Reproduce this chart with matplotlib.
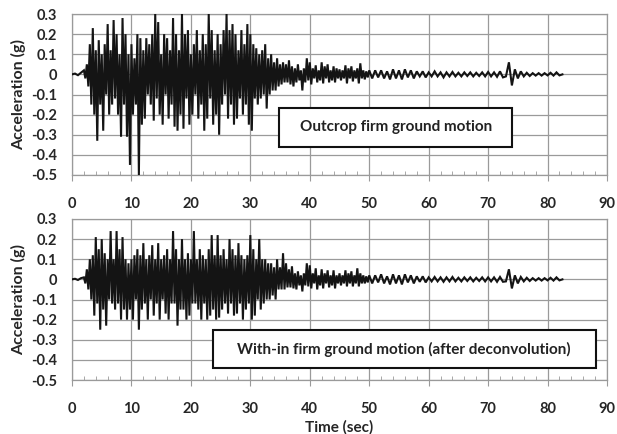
import numpy as np
import matplotlib
matplotlib.use("Agg")
import matplotlib.pyplot as plt
from matplotlib.patches import Rectangle
from matplotlib.ticker import MultipleLocator

plt.rcParams['font.family'] = ['Lato', 'DejaVu Sans']

# ---- data (acceleration in g) ----
# quiet start, dt = 0.5 s from 0 s
top_pre = [0.0, 0.004, -0.004, 0.008]
bot_pre = [0.0, 0.003, -0.003, 0.006]

# strong motion, dt = 0.25 s from 2.0 s
top_strong = [
    0.02, -0.02, 0.05, -0.06, 0.15, -0.15, 0.23, -0.2, 0.12, -0.33,
    0.17, -0.15, 0.1, -0.28, 0.15, -0.1, 0.25, -0.2, 0.12, -0.15,
    0.27, -0.12, 0.2, -0.2, 0.1, -0.31, 0.28, -0.15, 0.2, -0.31,
    0.1, -0.45, 0.15, -0.2, 0.08, -0.15, 0.2, -0.5, 0.18, -0.25,
    0.12, -0.22, 0.18, -0.1, 0.15, -0.15, 0.2, -0.23, 0.3, -0.12,
    0.26, -0.2, 0.1, -0.25, 0.2, -0.1, 0.18, -0.22, 0.12, -0.15,
    0.28, -0.26, 0.2, -0.28, 0.12, -0.2, 0.3, -0.27, 0.2, -0.12,
    0.22, -0.25, 0.1, -0.2, 0.15, -0.1, 0.22, -0.22, 0.12, -0.15,
    0.2, -0.28, 0.15, -0.22, 0.3, -0.12, 0.22, -0.25, 0.12, -0.2,
    0.2, -0.3, 0.15, -0.15, 0.22, -0.1, 0.3, -0.22, 0.22, -0.15,
    0.25, -0.25, 0.2, -0.22, 0.12, -0.12, 0.22, -0.2, 0.15, -0.15,
    0.25, -0.25, 0.2, -0.28, 0.15, -0.12, 0.13, -0.15, 0.1, -0.12,
    0.12, -0.1, 0.15, -0.17, 0.08, -0.1, 0.1, -0.08, 0.06, -0.08,
    0.08, -0.06, 0.05, -0.05, 0.06, -0.04, 0.05, -0.04, 0.07, -0.05,
]
bot_strong = [
    0.01, -0.02, 0.05, -0.05, 0.1, -0.1, 0.12, -0.18, 0.21, -0.12,
    0.15, -0.25, 0.2, -0.15, 0.13, -0.23, 0.1, -0.1, 0.24, -0.12,
    0.1, -0.15, 0.24, -0.12, 0.15, -0.2, 0.21, -0.15, 0.1, -0.2,
    0.08, -0.15, 0.1, -0.2, 0.12, -0.1, 0.15, -0.25, 0.12, -0.15,
    0.18, -0.12, 0.1, -0.2, 0.12, -0.1, 0.17, -0.18, 0.1, -0.12,
    0.18, -0.2, 0.1, -0.1, 0.12, -0.17, 0.15, -0.2, 0.1, -0.12,
    0.24, -0.12, 0.15, -0.23, 0.1, -0.15, 0.2, -0.15, 0.1, -0.2,
    0.13, -0.18, 0.1, -0.12, 0.24, -0.12, 0.1, -0.15, 0.15, -0.2,
    0.12, -0.12, 0.1, -0.2, 0.15, -0.18, 0.22, -0.15, 0.12, -0.2,
    0.22, -0.19, 0.12, -0.15, 0.15, -0.12, 0.1, -0.17, 0.2, -0.12,
    0.15, -0.18, 0.12, -0.17, 0.18, -0.12, 0.12, -0.2, 0.1, -0.15,
    0.12, -0.12, 0.22, -0.2, 0.15, -0.18, 0.1, -0.1, 0.2, -0.15,
    0.1, -0.12, 0.1, -0.1, 0.08, -0.1, 0.08, -0.08, 0.06, -0.1,
    0.1, -0.05, 0.06, -0.05, 0.13, -0.05, 0.08, -0.04, 0.05, -0.04,
]

# early coda, dt = 0.25 s from 37 s
top_coda = [
    0.04, -0.06, 0.03, -0.04, 0.05, -0.03, 0.02, -0.08, 0.03, -0.04,
    0.08, -0.03, 0.06, -0.05, 0.03, -0.02, 0.045, -0.04, 0.02, -0.03,
    0.06, -0.045, 0.04, -0.02, 0.05, -0.04, 0.02, -0.03, 0.04, -0.04,
    0.03, -0.02, 0.025, -0.03, 0.02, -0.02, 0.045, -0.045, 0.03, -0.02,
    0.04, -0.035, 0.02, -0.02, 0.03, -0.045, 0.055, -0.02, 0.02, -0.025,
    0.015, -0.015,
]
bot_coda = [
    0.065, -0.045, 0.03, -0.05, 0.04, -0.03, 0.02, -0.06, 0.03, -0.03,
    0.08, -0.035, 0.07, -0.045, 0.03, -0.02, 0.055, -0.05, 0.02, -0.03,
    0.05, -0.045, 0.03, -0.02, 0.045, -0.04, 0.02, -0.03, 0.045, -0.045,
    0.02, -0.02, 0.03, -0.03, 0.02, -0.02, 0.045, -0.035, 0.03, -0.02,
    0.04, -0.035, 0.02, -0.02, 0.055, -0.035, 0.03, -0.02, 0.02, -0.02,
    0.015, -0.015,
]

# late coda, dt = 0.5 s from 50 s
top_tail = [
    0.02, -0.02, 0.02, -0.015, 0.02, -0.02, 0.015, -0.025, 0.025, -0.02,
    0.02, -0.025, 0.025, -0.015, 0.02, -0.02, 0.015, -0.01, 0.015, -0.015,
    0.01, -0.01, 0.015, -0.01, 0.01, -0.015, 0.01, -0.01, 0.012, -0.01,
    0.008, -0.01, 0.01, -0.008, 0.01, -0.01, 0.008, -0.008, 0.01, -0.01,
    0.012, -0.01, 0.01, -0.012, 0.015, -0.015, -0.01, 0.06, -0.055, 0.025,
    -0.02, 0.015, -0.01, 0.008, -0.008, 0.006, -0.006, 0.006, -0.006, 0.006,
    -0.005, 0.008, -0.006, 0.01, -0.005, 0.0,
]
bot_tail = [
    0.02, -0.02, 0.02, -0.015, 0.025, -0.02, 0.015, -0.025, 0.025, -0.02,
    0.02, -0.025, 0.025, -0.015, 0.02, -0.02, 0.015, -0.012, 0.015, -0.015,
    0.01, -0.01, 0.012, -0.01, 0.01, -0.012, 0.01, -0.01, 0.012, -0.01,
    0.008, -0.01, 0.01, -0.008, 0.01, -0.01, 0.008, -0.008, 0.01, -0.01,
    0.01, -0.01, 0.01, -0.012, 0.012, -0.012, -0.01, 0.05, -0.045, 0.02,
    -0.02, 0.012, -0.01, 0.008, -0.008, 0.006, -0.006, 0.006, -0.006, 0.006,
    -0.005, 0.008, -0.006, 0.01, -0.005, 0.0,
]

labels = ["Outcrop firm ground motion",
          "With-in firm ground motion (after deconvolution)"]
y_ticks = [0.3, 0.2, 0.1, 0, -0.1, -0.2, -0.3, -0.4, -0.5]
x_ticks = [0, 10, 20, 30, 40, 50, 60, 70, 80, 90]


def build_series(pre, fast, tail):
    t1 = np.arange(len(pre)) * 0.5
    t2 = 2.0 + np.arange(len(fast)) * 0.25
    t3 = t2[-1] + 0.25 + np.arange(len(tail)) * 0.5
    return np.concatenate([t1, t2, t3]), np.array(pre + fast + tail)


series = [build_series(top_pre, top_strong + top_coda, top_tail),
          build_series(bot_pre, bot_strong + bot_coda, bot_tail)]

fig = plt.figure(figsize=(6.17, 4.34), dpi=100)
ax_pos = [[0.1167, 0.5968, 0.8671, 0.3709],
          [0.1167, 0.1244, 0.8671, 0.3710]]
# label boxes (x0, x1, y0, y1) in data units
boxes = [(34.8, 74.1, -0.36, -0.165), (23.7, 88.1, -0.4425, -0.2525)]

tick_col = '#262626'
for k in range(2):
    ax = fig.add_axes(ax_pos[k])
    t, a = series[k]
    ax.plot(t, a, color='#141414', lw=1.5, zorder=3, solid_joinstyle='miter')
    ax.set_xlim(0, 90)
    ax.set_ylim(-0.5, 0.3)
    ax.set_xticks(x_ticks)
    ax.set_yticks(y_ticks)
    ax.set_yticklabels([("%g" % v) for v in y_ticks])
    ax.xaxis.set_minor_locator(MultipleLocator(2))
    ax.grid(True, which='major', color='#9a9a9a', lw=0.9)
    for s in ax.spines.values():
        s.set_color('#9a9a9a')
        s.set_linewidth(0.9)
    ax.tick_params(axis='x', which='major', length=4, color='#9a9a9a',
                   pad=12, labelsize=10.5, labelcolor=tick_col)
    ax.tick_params(axis='x', which='minor', direction='in', length=3,
                   color='#9a9a9a')
    ax.tick_params(axis='y', length=0, pad=11, labelsize=10.5,
                   labelcolor=tick_col)
    for lab in ax.get_xticklabels() + ax.get_yticklabels():
        lab.set_fontweight('bold')
    ax.set_ylabel("Acceleration (g)", fontsize=11.5, fontweight='bold',
                  color=tick_col, labelpad=3)
    x0, x1, y0, y1 = boxes[k]
    ax.add_patch(Rectangle((x0, y0), x1 - x0, y1 - y0, facecolor='white',
                           edgecolor='#111111', lw=1.5, zorder=5))
    ax.text((x0 + x1) / 2, (y0 + y1) / 2, labels[k], ha='center',
            va='center', fontsize=11, fontweight='bold', color='#222222',
            zorder=6)
    if k == 1:
        ax.set_xlabel("Time (sec)", fontsize=11, fontweight='bold',
                      color=tick_col, labelpad=3)

fig.savefig("out.png", dpi=100)
